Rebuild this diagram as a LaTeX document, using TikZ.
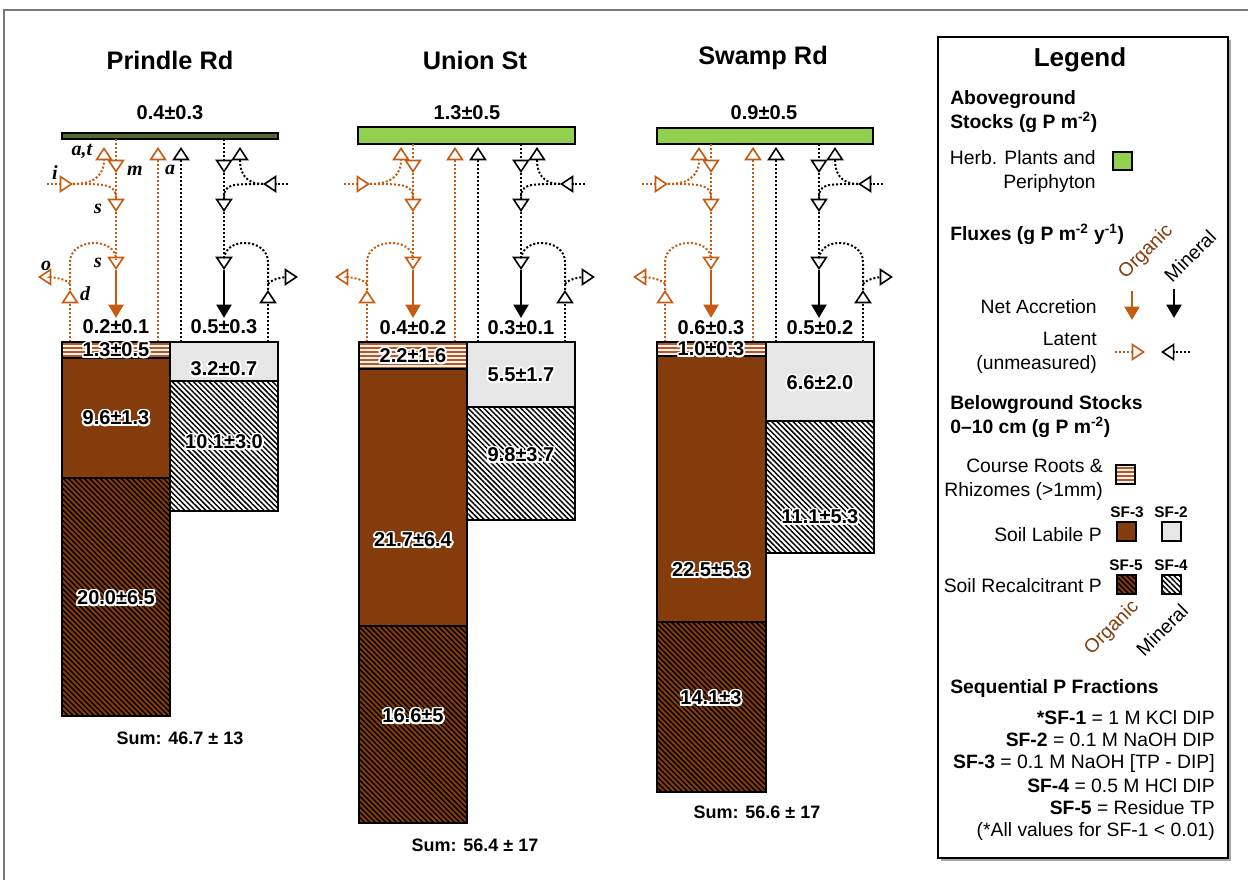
\documentclass[tikz,border=0pt]{standalone}
\usepackage{fontspec}
\setmainfont{Liberation Sans}
\newfontfamily\tagserif{Liberation Serif}
\usepackage{tikz}
\usetikzlibrary{arrows.meta, patterns.meta}
\definecolor{orgline}{RGB}{197,90,17}
\definecolor{orgsoil}{RGB}{132,60,12}
\definecolor{orgtext}{RGB}{132,60,12}
\definecolor{rootline}{RGB}{170,90,45}
\definecolor{rootbg}{RGB}{252,238,228}
\definecolor{minsoil}{RGB}{231,230,230}
\definecolor{herbgreen}{RGB}{146,208,80}
\definecolor{prgreen}{RGB}{84,106,48}
\definecolor{framegray}{RGB}{120,120,120}
\tikzset{
  latent/.style={line width=1.5pt, dash pattern=on 1.5pt off 1.5pt},
  latarrow/.style={latent, -{Triangle[open, width=13pt, length=10pt, line width=1.2pt]}},
  netflux/.style={line width=2.2pt, -{Triangle[width=11pt, length=10pt]}},
  stockbox/.style={draw=black, line width=1.5pt},
  herbbox/.style={stockbox, fill=herbgreen},
  rootbox/.style={stockbox, preaction={fill=rootbg},
    pattern={Lines[angle=0, distance=3pt, line width=1.3pt]}, pattern color=rootline},
  orglabbox/.style={stockbox, fill=orgsoil},
  orgrecbox/.style={stockbox, preaction={fill=orgsoil},
    pattern={Lines[angle=-45, distance=2.8pt, line width=1.1pt]}, pattern color=black},
  minlabbox/.style={stockbox, fill=minsoil},
  minrecbox/.style={stockbox, preaction={fill=white},
    pattern={Lines[angle=-45, distance=2.8pt, line width=1.1pt]}, pattern color=black},
  sitetitle/.style={font=\fontsize{19}{22}\selectfont\bfseries},
  fluxval/.style={font=\fontsize{15}{18}\selectfont\bfseries},
  sumtext/.style={font=\fontsize{13.5}{16}\selectfont\bfseries},
  fluxtag/.style={font=\fontsize{15}{16}\selectfont\tagserif\bfseries\itshape, inner sep=0pt},
  legtext/.style={font=\fontsize{14.5}{18}\selectfont, inner sep=0pt},
  leghead/.style={font=\fontsize{14.5}{18}\selectfont\bfseries, inner sep=0pt},
  sftag/.style={font=\fontsize{11.5}{14}\selectfont\bfseries, inner sep=0pt}
}
% value with white halo, drawn inside the stock bars
\newcommand{\stockval}[3]{%
  \foreach \hx/\hy in {1.4/0,-1.4/0,0/1.4,0/-1.4,1/1,-1/1,1/-1,-1/-1,
                       1.3/0.55,-1.3/0.55,1.3/-0.55,-1.3/-0.55,0.55/1.3,-0.55/1.3,0.55/-1.3,-0.55/-1.3}
    {\node[fluxval, text=white, xshift=\hx pt, yshift=\hy pt] at (#2) {#3};}
  \node[fluxval] (#1) at (#2) {#3};
}

\begin{document}
\begin{tikzpicture}[x=0.75pt, y=-0.75pt]
  \useasboundingbox (0,0) rectangle (1248,880);
  \draw[framegray, line width=1.5pt] (4,880) -- (4,10) -- (1248,10);

  % site titles and aboveground stocks
  \node[sitetitle] (pr-title) at (170,60) {Prindle Rd};
  \node[sitetitle] (us-title) at (475,60) {Union St};
  \node[sitetitle] (sr-title) at (763,58) {Swamp Rd};
  \node[fluxval] (pr-above) at (170,113) {0.4±0.3};
  \node[fluxval] (us-above) at (467,113) {1.3±0.5};
  \node[fluxval] (sr-above) at (764,113) {0.9±0.5};
  \draw[stockbox, fill=prgreen] (62,133) rectangle (278,139);
  \draw[herbbox] (358,127) rectangle (575,144);
  \draw[herbbox] (657,128) rectangle (873,144);

  % fluxes, same layout at each site
  \foreach \L/\yb/\id in {62/139/pr, 359/144/us, 657/144/sr} {
    % organic
    \coordinate (\id-ot) at (\L+54,\yb);
    \coordinate (\id-o1) at (\L+54,173);
    \coordinate (\id-o2) at (\L+54,212);
    \coordinate (\id-o3) at (\L+54,270);
    \coordinate (\id-o4) at (\L+54,318);
    \coordinate (\id-om) at (\L+54,198);
    \coordinate (\id-oarc) at (\L+54,260);
    \coordinate (\id-oin) at (\L-15,184);
    \coordinate (\id-oj) at (\L+11,184);
    \coordinate (\id-oat) at (\L+42,147);
    \coordinate (\id-od0) at (\L+8,342);
    \coordinate (\id-od1) at (\L+8,290);
    \coordinate (\id-ob) at (\L+8,284);
    \coordinate (\id-oout) at (\L-24,277);
    \coordinate (\id-oa0) at (\L+96,342);
    \coordinate (\id-oa1) at (\L+96,147);
    \draw[latarrow, orgline] (\id-ot) -- (\id-o1);
    \draw[latarrow, orgline] (\id-o1) -- (\id-o2);
    \draw[latarrow, orgline] (\id-o2) -- (\id-o3);
    \draw[netflux, orgline] (\id-o3) -- (\id-o4);
    \draw[latarrow, orgline] (\id-oin) -- (\id-oj);
    \draw[latarrow, orgline] (\id-oj) .. controls +(25,0) and +(0,25) .. (\id-oat);
    \draw[latent, orgline] (\id-oj) .. controls +(32,0) and +(0,-14) .. (\id-om);
    \draw[latarrow, orgline] (\id-od0) -- (\id-od1);
    \draw[latent, orgline] (\id-od1) -- ++(0,-28) .. controls +(0,-24) and +(0,-24) .. (\id-oarc);
    \draw[latarrow, orgline] (\id-ob) .. controls +(-4,-6) and +(10,0) .. (\id-oout);
    \draw[latarrow, orgline] (\id-oa0) -- (\id-oa1);
    % mineral
    \coordinate (\id-mt) at (\L+162,\yb);
    \coordinate (\id-m1) at (\L+162,173);
    \coordinate (\id-m2) at (\L+162,212);
    \coordinate (\id-m3) at (\L+162,270);
    \coordinate (\id-m4) at (\L+162,318);
    \coordinate (\id-mm) at (\L+162,198);
    \coordinate (\id-marc) at (\L+162,260);
    \coordinate (\id-min) at (\L+226,184);
    \coordinate (\id-mj) at (\L+201,184);
    \coordinate (\id-mup) at (\L+178,147);
    \coordinate (\id-md0) at (\L+206,342);
    \coordinate (\id-md1) at (\L+206,290);
    \coordinate (\id-mb) at (\L+206,284);
    \coordinate (\id-mout) at (\L+236,277);
    \coordinate (\id-ma0) at (\L+119,342);
    \coordinate (\id-ma1) at (\L+119,147);
    \draw[latarrow] (\id-mt) -- (\id-m1);
    \draw[latarrow] (\id-m1) -- (\id-m2);
    \draw[latarrow] (\id-m2) -- (\id-m3);
    \draw[netflux] (\id-m3) -- (\id-m4);
    \draw[latarrow] (\id-min) -- (\id-mj);
    \draw[latarrow] (\id-mj) .. controls +(-18,0) and +(0,25) .. (\id-mup);
    \draw[latent] (\id-mj) .. controls +(-32,0) and +(0,-14) .. (\id-mm);
    \draw[latarrow] (\id-md0) -- (\id-md1);
    \draw[latent] (\id-md1) -- ++(0,-28) .. controls +(0,-24) and +(0,-24) .. (\id-marc);
    \draw[latarrow] (\id-mb) .. controls +(4,-6) and +(-10,0) .. (\id-mout);
    \draw[latarrow] (\id-ma0) -- (\id-ma1);
  }

  % flux tags
  \node[fluxtag] (tag-at) at (82,151) {a,t};
  \node[fluxtag] (tag-i) at (55,173) {i};
  \node[fluxtag] (tag-m) at (135,171) {m};
  \node[fluxtag] (tag-s1) at (98,209) {s};
  \node[fluxtag] (tag-s2) at (98,263) {s};
  \node[fluxtag] (tag-o) at (46,266) {o};
  \node[fluxtag] (tag-d) at (85,294) {d};
  \node[fluxtag] (tag-a) at (170,170) {a};

  % net accretion values
  \node[fluxval] (pr-orgacc) at (116,327) {0.2±0.1};
  \node[fluxval] (pr-minacc) at (224,327) {0.5±0.3};
  \node[fluxval] (us-orgacc) at (413,328) {0.4±0.2};
  \node[fluxval] (us-minacc) at (521,328) {0.3±0.1};
  \node[fluxval] (sr-orgacc) at (711,328) {0.6±0.3};
  \node[fluxval] (sr-minacc) at (820,328) {0.5±0.2};

  % Prindle Rd stocks
  \draw[rootbox] (62,342) rectangle (170,358);
  \draw[orglabbox] (62,358) rectangle (170,478);
  \draw[orgrecbox] (62,478) rectangle (170,716);
  \draw[minlabbox] (170,342) rectangle (278,381);
  \draw[minrecbox] (170,381) rectangle (278,511);
  \stockval{pr-root}{116,350}{1.3±0.5}
  \stockval{pr-sf3}{116,418}{9.6±1.3}
  \stockval{pr-sf5}{116,598}{20.0±6.5}
  \stockval{pr-sf2}{224,369}{3.2±0.7}
  \stockval{pr-sf4}{224,442}{10.1±3.0}
  \node[sumtext] (pr-sum) at (180,738) {Sum: 46.7 ± 13};

  % Union St stocks
  \draw[rootbox] (359,342) rectangle (467,369);
  \draw[orglabbox] (359,369) rectangle (467,626);
  \draw[orgrecbox] (359,626) rectangle (467,823);
  \draw[minlabbox] (467,342) rectangle (575,407);
  \draw[minrecbox] (467,407) rectangle (575,520);
  \stockval{us-root}{413,356}{2.2±1.6}
  \stockval{us-sf3}{413,540}{21.7±6.4}
  \stockval{us-sf5}{413,716}{16.6±5}
  \stockval{us-sf2}{521,375}{5.5±1.7}
  \stockval{us-sf4}{521,455}{9.8±3.7}
  \node[sumtext] (us-sum) at (475,845) {Sum: 56.4 ± 17};

  % Swamp Rd stocks
  \draw[rootbox] (657,342) rectangle (766,356);
  \draw[orglabbox] (657,356) rectangle (766,622);
  \draw[orgrecbox] (657,622) rectangle (766,792);
  \draw[minlabbox] (766,342) rectangle (874,421);
  \draw[minrecbox] (766,421) rectangle (874,553);
  \stockval{sr-root}{711,349}{1.0±0.3}
  \stockval{sr-sf3}{711,570}{22.5±5.3}
  \stockval{sr-sf5}{711,698}{14.1±3}
  \stockval{sr-sf2}{820,383}{6.6±2.0}
  \stockval{sr-sf4}{820,517}{11.1±5.3}
  \node[sumtext] (sr-sum) at (757,812) {Sum: 56.6 ± 17};

  % Legend
  \fill[gray!70] (941,40) rectangle (1231,861);
  \draw[fill=white, line width=1.5pt] (938,37) rectangle (1228,858);
  \node[font=\fontsize{19.5}{22}\selectfont\bfseries] (leg-title) at (1080,60) {Legend};
  \node[leghead, anchor=west, align=left] (leg-above) at (950,112) {Aboveground\\Stocks (g P m\textsuperscript{-2})};
  \node[legtext, anchor=east, align=right] (leg-herb) at (1096,172) {Herb. Plants and\\Periphyton};
  \draw[herbbox] (1113,152) rectangle (1132,170);
  \node[leghead, anchor=west] (leg-flux) at (950,234) {Fluxes (g P m\textsuperscript{-2} y\textsuperscript{-1})};
  \node[legtext, rotate=45, text=orgtext] (leg-org1) at (1146,252) {Organic};
  \node[legtext, rotate=45] (leg-min1) at (1190,256) {Mineral};
  \node[legtext, anchor=east] (leg-net) at (1097,307) {Net Accretion};
  \coordinate (leg-no0) at (1132,291);
  \coordinate (leg-no1) at (1132,320);
  \coordinate (leg-nm0) at (1174,289);
  \coordinate (leg-nm1) at (1174,318);
  \draw[netflux, orgline] (leg-no0) -- (leg-no1);
  \draw[netflux] (leg-nm0) -- (leg-nm1);
  \node[legtext, anchor=east, align=right] (leg-lat) at (1097,353) {Latent\\(unmeasured)};
  \coordinate (leg-lo0) at (1115,352);
  \coordinate (leg-lo1) at (1145,352);
  \coordinate (leg-lm0) at (1190,352);
  \coordinate (leg-lm1) at (1161,352);
  \draw[latarrow, orgline] (leg-lo0) -- (leg-lo1);
  \draw[latarrow] (leg-lm0) -- (leg-lm1);
  \node[leghead, anchor=west, align=left] (leg-below) at (950,417) {Belowground Stocks\\0--10 cm (g P m\textsuperscript{-2})};
  \node[legtext, anchor=east, align=right] (leg-roots) at (1103,480) {Course Roots \&\\Rhizomes (>1mm)};
  \draw[rootbox] (1116,465) rectangle (1135,484);
  \node[sftag] (leg-sf3) at (1127,512) {SF-3};
  \node[sftag] (leg-sf2) at (1171,512) {SF-2};
  \node[legtext, anchor=east] (leg-labile) at (1102,535) {Soil Labile P};
  \draw[orglabbox] (1117,522) rectangle (1136,541);
  \draw[minlabbox] (1162,522) rectangle (1181,541);
  \node[sftag] (leg-sf5) at (1126,565) {SF-5};
  \node[sftag] (leg-sf4) at (1171,565) {SF-4};
  \node[legtext, anchor=east] (leg-recal) at (1102,586) {Soil Recalcitrant P};
  \draw[orgrecbox] (1117,575) rectangle (1136,594);
  \draw[minrecbox] (1162,575) rectangle (1181,594);
  \node[legtext, rotate=45, text=orgtext] (leg-org2) at (1112,628) {Organic};
  \node[legtext, rotate=45] (leg-min2) at (1162,630) {Mineral};
  \node[leghead, anchor=west] (leg-seq) at (950,688) {Sequential P Fractions};
  \node[legtext, anchor=east] (leg-sf1txt) at (1215,718) {\textbf{*SF-1} = 1 M KCl DIP};
  \node[legtext, anchor=east] (leg-sf2txt) at (1215,740) {\textbf{SF-2} = 0.1 M NaOH DIP};
  \node[legtext, anchor=east] (leg-sf3txt) at (1215,763) {\textbf{SF-3} = 0.1 M NaOH [TP - DIP]};
  \node[legtext, anchor=east] (leg-sf4txt) at (1215,786) {\textbf{SF-4} = 0.5 M HCl DIP};
  \node[legtext, anchor=east] (leg-sf5txt) at (1215,808) {\textbf{SF-5} = Residue TP};
  \node[legtext, anchor=east] (leg-note) at (1215,831) {(*All values for SF-1 < 0.01)};
\end{tikzpicture}
\end{document}
